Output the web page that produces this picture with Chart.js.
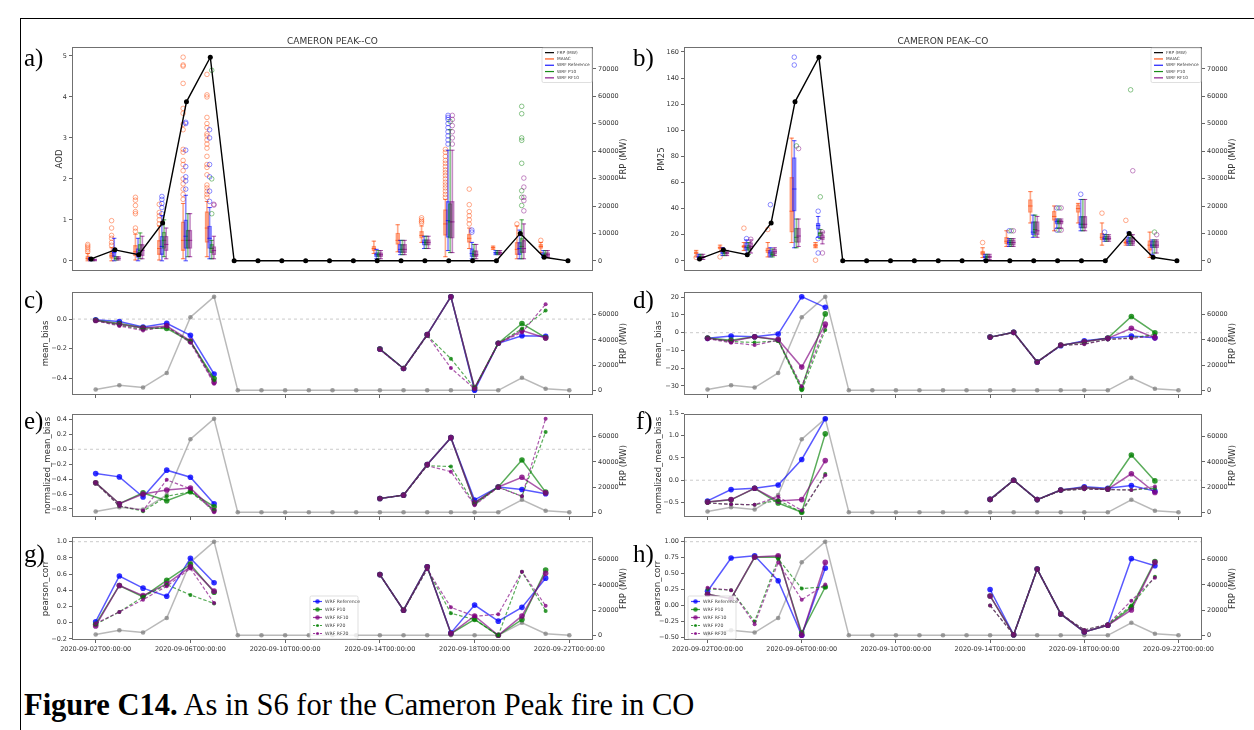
<!DOCTYPE html>
<html>
<head>
<meta charset="utf-8">
<title>Cameron Peak fire - CO</title>
<script src="https://cdn.jsdelivr.net/npm/chart.js@4.4.1/dist/chart.umd.min.js"></script>
<style>
  html, body { margin: 0; padding: 0; background: #fff; }
  body { width: 1254px; height: 730px; position: relative; overflow: hidden; }
  canvas { position: absolute; }
  .tag { position: absolute; font-family: "Liberation Serif", serif; font-size: 25px; line-height: 1; color: #000; }
  #caption { position: absolute; left: 24px; top: 690px; font-family: "Liberation Serif", serif; font-size: 30.5px; line-height: 1; white-space: nowrap; color: #000; }
  .rule { position: absolute; background: #000; }
</style>
</head>
<body>
<div class="rule" style="left:20px;top:18px;width:1px;height:712px"></div>
<div class="rule" style="left:20px;top:18px;width:1234px;height:1px"></div>

<canvas id="pa"></canvas><canvas id="pb"></canvas>
<canvas id="pc"></canvas><canvas id="pd"></canvas>
<canvas id="pe"></canvas><canvas id="pf"></canvas>
<canvas id="pg"></canvas><canvas id="ph"></canvas>

<div class="tag" style="left:24px;top:45px">a)</div>
<div class="tag" style="left:633px;top:45px">b)</div>
<div class="tag" style="left:24px;top:287px">c)</div>
<div class="tag" style="left:633px;top:287px">d)</div>
<div class="tag" style="left:24px;top:408px">e)</div>
<div class="tag" style="left:636px;top:408px">f)</div>
<div class="tag" style="left:24px;top:541px">g)</div>
<div class="tag" style="left:633px;top:541px">h)</div>

<div id="caption"><b>Figure C14.</b> As in S6 for the Cameron Peak fire in CO</div>

<script>
const N = null;

// one entry per day, 2020-09-02 .. 2020-09-22
const dates = [
  "2020-09-02", "2020-09-03", "2020-09-04", "2020-09-05", "2020-09-06", "2020-09-07", "2020-09-08",
  "2020-09-09", "2020-09-10", "2020-09-11", "2020-09-12", "2020-09-13", "2020-09-14", "2020-09-15",
  "2020-09-16", "2020-09-17", "2020-09-18", "2020-09-19", "2020-09-20", "2020-09-21", "2020-09-22"
];
const xTickDays = [0, 4, 8, 12, 16, 20];

// fire radiative power (MW)
const frpMW = [700, 4000, 2200, 13800, 58000, 74300, 0, 0, 0, 0, 0, 0, 0, 0, 0, 0, 0, 0, 10000, 1300, 0];
const frpTicksBox = [0, 10000, 20000, 30000, 40000, 50000, 60000, 70000];
const frpTicks = [0, 20000, 40000, 60000];

// ---- box plots: days with observations, [low whisker, q1, median, q3, high whisker]
const boxDays = [0, 1, 2, 3, 4, 5, 12, 13, 14, 15, 16, 17, 18, 19];

const aodMaiacBox = [
  [0, 0.03, 0.06, 0.12, 0.18], [0, 0.06, 0.12, 0.2, 0.32], [0.02, 0.12, 0.22, 0.38, 0.65],
  [0.02, 0.15, 0.3, 0.5, 0.85], [0.05, 0.25, 0.5, 0.95, 1.4], [0.1, 0.45, 0.8, 1.2, 1.45],
  [0.18, 0.24, 0.3, 0.36, 0.48], [0.22, 0.4, 0.5, 0.68, 0.88], [0.45, 0.55, 0.62, 0.72, 0.85],
  [0.1, 0.62, 0.9, 1.25, 1.5], [0.3, 0.45, 0.55, 0.65, 0.8], [0.28, 0.3, 0.32, 0.34, 0.36],
  [0.05, 0.15, 0.28, 0.45, 0.85], [0.2, 0.3, 0.35, 0.4, 0.45]
];
const aodMaiacOut = [
  [0.22, 0.27, 0.32, 0.36, 0.4], [0.38, 0.45, 0.55, 0.62, 0.8, 0.98], [0.72, 0.8, 1.15, 1.2, 1.35, 1.48, 1.55],
  [0.9, 1.0, 1.1, 1.18, 1.38],
  [1.5, 1.62, 1.75, 1.88, 2.0, 2.2, 2.35, 2.45, 2.65, 2.72, 3.2, 3.33, 3.6, 3.72, 4.33, 4.75, 4.78, 4.97],
  [1.55, 1.62, 1.7, 1.78, 1.85, 2.1, 2.28, 2.35, 2.55, 2.75, 2.85, 2.95, 3.05, 3.1, 3.25, 3.35, 3.5, 4.0, 4.05, 4.55],
  [], [], [0.92, 0.96, 1.0, 1.05],
  [1.55, 1.62, 1.7, 1.78, 1.85, 1.92, 2.0, 2.08, 2.15, 2.22, 2.3, 2.38, 2.45, 2.55, 2.65, 2.72],
  [0.9, 1.0, 1.1, 1.2, 1.37, 1.75], [], [0.9], [0.5]
];
const aodRefBox = [
  [0, 0.02, 0.04, 0.06, 0.08], [0, 0.1, 0.2, 0.3, 0.55], [0, 0.08, 0.15, 0.3, 0.55],
  [0, 0.15, 0.35, 0.6, 1.1], [0, 0.3, 0.6, 1.0, 1.6], [0.05, 0.3, 0.55, 0.85, 1.3],
  [0.05, 0.1, 0.15, 0.2, 0.28], [0.15, 0.2, 0.28, 0.4, 0.5], [0.3, 0.38, 0.45, 0.52, 0.6],
  [0.25, 0.57, 0.98, 1.45, 2.7], [0.05, 0.1, 0.18, 0.3, 0.45], [0.15, 0.17, 0.2, 0.22, 0.25],
  [0.05, 0.15, 0.3, 0.45, 0.75], [0.08, 0.1, 0.15, 0.2, 0.25]
];
const aodRefOut = [
  [], [], [], [1.15, 1.3, 1.4, 1.5, 1.57], [1.75, 1.95, 2.05, 2.3, 2.7, 3.35, 3.38], [1.45, 1.7, 2.05, 2.35, 3.0, 3.2],
  [], [], [], [2.85, 2.95, 3.05, 3.15, 3.25, 3.35, 3.45, 3.5, 3.55], [0.7, 0.75], [], [], []
];
const aodP10Box = [
  [0, 0.01, 0.02, 0.03, 0.05], [0.02, 0.04, 0.06, 0.08, 0.1], [0.05, 0.15, 0.25, 0.4, 0.68],
  [0.1, 0.3, 0.5, 0.7, 1.0], [0.1, 0.3, 0.5, 0.75, 1.15], [0.05, 0.2, 0.3, 0.4, 0.5],
  [0.05, 0.1, 0.15, 0.2, 0.25], [0.15, 0.2, 0.28, 0.4, 0.5], [0.3, 0.38, 0.45, 0.52, 0.6],
  [0.2, 0.55, 0.95, 1.4, 3.2], [0.05, 0.1, 0.15, 0.25, 0.4], [0.15, 0.17, 0.2, 0.22, 0.25],
  [0.05, 0.2, 0.35, 0.55, 1.0], [0.08, 0.1, 0.15, 0.2, 0.25]
];
const aodP10Out = [
  [], [], [], [], [], [1.15, 2.0, 4.65],
  [], [], [], [3.4], [], [], [1.35, 1.55, 1.71, 2.38, 2.94, 3.0, 3.59, 3.77], []
];
const aodRf10Box = [
  [0, 0.01, 0.02, 0.03, 0.04], [0.02, 0.04, 0.06, 0.08, 0.1], [0.05, 0.12, 0.25, 0.4, 0.6],
  [0.05, 0.25, 0.4, 0.6, 0.8], [0.1, 0.3, 0.5, 0.75, 1.15], [0.05, 0.15, 0.25, 0.35, 0.6],
  [0.05, 0.1, 0.15, 0.2, 0.25], [0.15, 0.2, 0.28, 0.4, 0.5], [0.3, 0.38, 0.45, 0.52, 0.6],
  [0.2, 0.55, 0.95, 1.45, 2.7], [0.05, 0.1, 0.15, 0.25, 0.4], [0.15, 0.17, 0.2, 0.22, 0.25],
  [0.05, 0.2, 0.3, 0.5, 0.9], [0.08, 0.1, 0.15, 0.2, 0.25]
];
const aodRf10Out = [
  [], [], [], [], [], [1.36, 1.38],
  [], [], [], [2.85, 3.0, 3.15, 3.3, 3.45, 3.55], [], [], [1.22, 1.47, 1.55, 1.8, 2.02], []
];

const pmMaiacBox = [
  [3, 5, 6, 7, 8], [7, 9, 10, 11, 12], [8, 10, 11, 12, 14], [3, 6, 8, 10, 14], [14, 22, 38, 64, 94], [10, 10.5, 12, 13, 14],
  [2.5, 4.5, 6, 7.5, 10], [11, 13, 15, 18, 23], [29, 37, 42, 47, 53], [23, 31, 34, 38, 42],
  [29, 37, 40, 43, 44], [12, 16, 18, 21, 29], [12, 13, 14, 15, 16], [2.6, 8, 12, 15.5, 22]
];
const pmMaiacOut = [[2.6], [3], [25], [24], [], [0.5], [14], [], [], [], [], [36.5], [31], []];
const pmRefBox = [
  [1, 2, 3, 4, 5], [4, 5, 6, 8, 10], [5, 8, 10, 14, 16], [3, 4, 6, 8, 10], [10, 38, 55, 79, 92], [18, 24, 27, 29, 34],
  [1, 2, 3, 4, 5], [11, 12, 14, 16, 17], [18, 20, 22, 30, 35], [25, 28, 30, 31, 32],
  [23, 25, 28, 34, 47], [15, 16, 17, 19, 20], [12, 13, 15, 18, 22], [5, 10, 12, 15, 16]
];
const pmRefOut = [[], [], [17], [43], [150, 156], [6, 17, 38], [], [23], [], [23.5, 40.5], [51], [22], [], []];
const pmP10Box = [
  [1, 2, 3, 4, 5], [4, 5, 6, 7, 8], [5, 8, 10, 12, 14], [3, 4, 5, 7, 9], [10, 14, 18, 25, 32], [17, 19, 21, 22, 24],
  [1, 2, 3, 4, 5], [11, 12, 14, 16, 17], [19, 21, 24, 30, 35], [25, 28, 30, 31, 32],
  [23, 25, 28, 34, 47], [15, 16, 17, 19, 20], [12, 13, 15, 18, 20], [6, 10, 12, 15, 16]
];
const pmP10Out = [[], [], [], [], [88], [49], [], [23], [], [23.5, 40.5], [], [], [131], [22]];
const pmRf10Box = [
  [1, 2, 3, 3.5, 5], [4, 5, 6, 7, 8], [6, 9, 11, 14, 16], [4, 5, 7, 9, 10], [11, 14, 19, 25, 32], [13, 16, 18, 20, 22],
  [1, 2, 3, 4, 5], [11, 12, 14, 16, 17], [18, 20, 23, 30, 34], [25, 28, 30, 31, 32],
  [23, 25, 28, 34, 47], [15, 16, 17, 19, 20], [12, 13, 15, 18, 20], [6, 10, 12, 15, 16]
];
const pmRf10Out = [[], [], [16.5], [], [86], [6, 22], [], [23], [], [23.5, 40.5], [], [], [69], [20]];

const aodTicks = [0, 1, 2, 3, 4, 5];
const pmTicks = [0, 20, 40, 60, 80, 100, 120, 140, 160];

// ---- daily scores per model run (null = no observations that day)
const mbAodRef  = [-0.005, -0.016, -0.053, -0.028, -0.109, -0.37, N, N, N, N, N, N, -0.202, -0.333, -0.105, 0.151, -0.48, -0.163, -0.112, -0.116, N];
const mbAodP10  = [-0.008, -0.03, -0.058, -0.063, -0.151, -0.40, N, N, N, N, N, N, -0.202, -0.333, -0.105, 0.151, -0.465, -0.163, -0.03, -0.125, N];
const mbAodRf10 = [-0.01, -0.035, -0.06, -0.046, -0.147, -0.425, N, N, N, N, N, N, -0.202, -0.333, -0.105, 0.151, -0.465, -0.163, -0.077, -0.128, N];
const mbAodP20  = [-0.01, -0.04, -0.07, -0.055, -0.15, -0.414, N, N, N, N, N, N, -0.202, -0.333, -0.11, -0.267, -0.465, -0.163, -0.065, 0.058, N];
const mbAodRf20 = [-0.012, -0.046, -0.077, -0.05, -0.16, -0.435, N, N, N, N, N, N, -0.205, -0.335, -0.11, -0.33, -0.47, -0.163, -0.09, 0.10, N];
const mbAodTicks = [-0.4, -0.2, 0.0];

const mbPmRef  = [-3.2, -1.9, -2.3, -0.8, 20.3, 14.3, N, N, N, N, N, N, -2.5, 0.2, -16.5, -7.3, -4.6, -3.2, -1.9, -2.9, N];
const mbPmP10  = [-3.0, -4.2, -2.3, -4.2, -31.5, 10.6, N, N, N, N, N, N, -2.5, 0.2, -16.5, -7.0, -5.1, -3.0, 9.1, 0.0, N];
const mbPmRf10 = [-3.2, -4.8, -2.3, -3.8, -19.4, 4.8, N, N, N, N, N, N, -2.5, 0.2, -16.5, -7.0, -5.1, -3.2, 2.5, -2.9, N];
const mbPmP20  = [-3.2, -5.0, -5.5, -4.6, -32.5, 1.5, N, N, N, N, N, N, -2.6, 0.1, -16.6, -7.2, -6.3, -3.8, -2.9, -1.0, N];
const mbPmRf20 = [-3.4, -5.7, -7.0, -4.2, -30.2, 3.4, N, N, N, N, N, N, -2.7, 0.0, -16.7, -7.2, -6.5, -3.8, -3.2, -1.9, N];
const mbPmTicks = [-30, -20, -10, 0, 10, 20];

const nmbAodRef  = [-0.326, -0.37, -0.64, -0.28, -0.375, -0.73, N, N, N, N, N, N, -0.66, -0.615, -0.205, 0.156, -0.68, -0.505, -0.54, -0.595, N];
const nmbAodP10  = [-0.45, -0.73, -0.585, -0.69, -0.57, -0.77, N, N, N, N, N, N, -0.66, -0.615, -0.205, 0.156, -0.72, -0.505, -0.143, -0.575, N];
const nmbAodRf10 = [-0.45, -0.73, -0.60, -0.545, -0.52, -0.82, N, N, N, N, N, N, -0.66, -0.615, -0.205, 0.156, -0.72, -0.505, -0.375, -0.585, N];
const nmbAodP20  = [-0.45, -0.76, -0.83, -0.63, -0.57, -0.82, N, N, N, N, N, N, -0.66, -0.615, -0.22, -0.232, -0.74, -0.505, -0.63, 0.232, N];
const nmbAodRf20 = [-0.45, -0.76, -0.82, -0.41, -0.53, -0.845, N, N, N, N, N, N, -0.66, -0.615, -0.22, -0.30, -0.75, -0.51, -0.63, 0.41, N];
const nmbAodTicks = [-0.8, -0.6, -0.4, -0.2, 0.0, 0.2, 0.4];

const nmbPmRef  = [-0.465, -0.21, -0.18, -0.107, 0.466, 1.38, N, N, N, N, N, N, -0.43, 0.0, -0.435, -0.22, -0.145, -0.18, -0.12, -0.245, N];
const nmbPmP10  = [-0.49, -0.44, -0.18, -0.51, -0.72, 1.04, N, N, N, N, N, N, -0.43, 0.0, -0.435, -0.22, -0.17, -0.2, 0.565, -0.015, N];
const nmbPmRf10 = [-0.49, -0.435, -0.18, -0.465, -0.435, 0.44, N, N, N, N, N, N, -0.43, 0.0, -0.435, -0.22, -0.17, -0.2, 0.145, -0.275, N];
const nmbPmP20  = [-0.51, -0.54, -0.55, -0.45, -0.72, 0.14, N, N, N, N, N, N, -0.45, 0.0, -0.44, -0.23, -0.2, -0.21, -0.22, -0.18, N];
const nmbPmRf20 = [-0.51, -0.54, -0.55, -0.37, -0.68, 0.11, N, N, N, N, N, N, -0.45, 0.0, -0.44, -0.23, -0.2, -0.21, -0.22, -0.14, N];
const nmbPmTicks = [-0.5, 0.0, 0.5, 1.0, 1.5];

const corrAodRef  = [0.013, 0.577, 0.427, 0.326, 0.795, 0.494, N, N, N, N, N, N, 0.594, 0.155, 0.69, -0.125, 0.218, 0.02, 0.19, 0.55, N];
const corrAodP10  = [-0.02, 0.46, 0.32, 0.523, 0.72, 0.377, N, N, N, N, N, N, 0.594, 0.155, 0.69, -0.134, 0.042, -0.155, 0.04, 0.65, N];
const corrAodRf10 = [-0.04, 0.46, 0.335, 0.48, 0.69, 0.39, N, N, N, N, N, N, 0.594, 0.155, 0.69, -0.134, 0.084, -0.155, 0.084, 0.61, N];
const corrAodP20  = [-0.02, 0.134, 0.32, 0.47, 0.343, 0.238, N, N, N, N, N, N, 0.594, 0.155, 0.66, 0.117, 0.04, -0.155, 0.63, 0.146, N];
const corrAodRf20 = [-0.01, 0.134, 0.285, 0.45, 0.67, 0.243, N, N, N, N, N, N, 0.594, 0.155, 0.66, 0.19, 0.08, 0.105, 0.63, 0.21, N];
const corrAodTicks = [-0.2, 0.0, 0.2, 0.4, 0.6, 0.8, 1.0];

const corrPmRef  = [0.223, 0.745, 0.78, 0.388, -0.468, 0.585, N, N, N, N, N, N, 0.25, -0.46, 0.57, -0.133, -0.415, -0.31, 0.734, 0.622, N];
const corrPmP10  = [0.175, 0.106, 0.755, 0.76, -0.43, 0.29, N, N, N, N, N, N, 0.149, -0.46, 0.57, -0.133, -0.415, -0.31, -0.027, 0.69, N];
const corrPmRf10 = [0.175, 0.106, 0.76, 0.78, -0.468, 0.675, N, N, N, N, N, N, 0.149, -0.46, 0.57, -0.133, -0.415, -0.31, -0.07, 0.675, N];
const corrPmP20  = [0.26, 0.24, -0.25, 0.73, 0.266, 0.29, N, N, N, N, N, N, 0.0, -0.46, 0.57, -0.133, -0.383, -0.296, 0.0, 0.45, N];
const corrPmRf20 = [0.277, 0.24, -0.293, 0.675, 0.09, 0.33, N, N, N, N, N, N, 0.0, -0.46, 0.57, -0.133, -0.383, -0.296, 0.075, 0.436, N];
const corrPmTicks = [-0.5, -0.25, 0.0, 0.25, 0.5, 0.75, 1.0];

// ---- styling
Chart.defaults.font.family = '"DejaVu Sans", sans-serif';
Chart.defaults.color = "#333";

const RED = "255,69,0", BLUE = "0,0,255", GREEN = "0,128,0", PURPLE = "128,0,128";
const rgba = (c, a) => `rgba(${c},${a})`;
const LW = 44, RW = 46;

const frames = {
  pa: { l: 72, t: 47, r: 593, b: 271 },
  pb: { l: 684, t: 47, r: 1202, b: 271 },
  pc: { l: 72, t: 292, r: 593, b: 395 },
  pd: { l: 684, t: 292, r: 1202, b: 395 },
  pe: { l: 72, t: 414, r: 593, b: 517 },
  pf: { l: 684, t: 414, r: 1202, b: 517 },
  pg: { l: 72, t: 537, r: 593, b: 640 },
  ph: { l: 684, t: 537, r: 1202, b: 640 }
};

const boxLegend = [
  { text: "FRP (MW)", color: "#000" },
  { text: "MAIAC", color: rgba(RED, 0.9) },
  { text: "WRF Reference", color: rgba(BLUE, 0.9) },
  { text: "WRF P10", color: rgba(GREEN, 0.9) },
  { text: "WRF RF10", color: rgba(PURPLE, 0.9) }
];
const runLegend = [
  { text: "WRF Reference", color: rgba(BLUE, 0.75), marker: 2.3 },
  { text: "WRF P10", color: rgba(GREEN, 0.75), marker: 2.3 },
  { text: "WRF RF10", color: rgba(PURPLE, 0.75), marker: 2.3 },
  { text: "WRF P20", color: rgba(GREEN, 0.75), marker: 1.6, dash: [2, 1.5] },
  { text: "WRF RF20", color: rgba(PURPLE, 0.75), marker: 1.6, dash: [2, 1.5] }
];

// per-canvas decorations: frame, axis labels, title, legend
const decor = {
  pa: { title: "CAMERON PEAK--CO", yLabel: "AOD", yLabelDx: 12,
        legend: { right: 1, top: 1, width: 50, rowH: 6.3, font: 4.3, lineLen: 9, items: boxLegend } },
  pb: { title: "CAMERON PEAK--CO", yLabel: "PM25", yLabelDx: 22,
        legend: { right: 1, top: 1, width: 50, rowH: 6.3, font: 4.3, lineLen: 9, items: boxLegend } },
  pc: { yLabel: "mean_bias", yLabelDx: 26 },
  pd: { yLabel: "mean_bias", yLabelDx: 25 },
  pe: { yLabel: "normalized_mean_bias", yLabelDx: 24 },
  pf: { yLabel: "normalized_mean_bias", yLabelDx: 25 },
  pg: { yLabel: "pearson_corr", yLabelDx: 26,
        legend: { left: 238, bottom: 1, width: 48, rowH: 8, font: 4.6, lineLen: 9, items: runLegend } },
  ph: { yLabel: "pearson_corr", yLabelDx: 26,
        legend: { left: 4, bottom: 1, width: 48, rowH: 8, font: 4.6, lineLen: 9, items: runLegend } }
};

function drawLegend(ctx, a, lg) {
  const h = lg.items.length * lg.rowH + 3;
  const x0 = lg.right != null ? a.right - lg.right - lg.width : a.left + lg.left;
  const y0 = lg.bottom != null ? a.bottom - lg.bottom - h : a.top + lg.top;
  ctx.fillStyle = "rgba(255,255,255,0.8)";
  ctx.strokeStyle = "rgba(210,210,210,0.9)";
  ctx.lineWidth = 0.8;
  ctx.beginPath();
  ctx.roundRect(x0, y0, lg.width, h, 1.5);
  ctx.fill();
  ctx.stroke();
  ctx.font = lg.font + 'px "DejaVu Sans"';
  ctx.textBaseline = "middle";
  ctx.textAlign = "left";
  lg.items.forEach((it, i) => {
    const cy = y0 + 1.5 + lg.rowH * (i + 0.5);
    const lx = x0 + 3;
    ctx.strokeStyle = it.color;
    ctx.lineWidth = 1.2;
    ctx.setLineDash(it.dash || []);
    ctx.beginPath();
    ctx.moveTo(lx, cy);
    ctx.lineTo(lx + lg.lineLen, cy);
    ctx.stroke();
    ctx.setLineDash([]);
    if (it.marker) {
      ctx.fillStyle = it.color;
      ctx.beginPath();
      ctx.arc(lx + lg.lineLen / 2, cy, it.marker, 0, Math.PI * 2);
      ctx.fill();
    }
    ctx.fillStyle = "#444";
    ctx.fillText(it.text, lx + lg.lineLen + 3, cy);
  });
}

const panelDecor = {
  id: "panelDecor",
  afterDraw(chart) {
    const o = decor[chart.canvas.id];
    const { ctx, chartArea: a } = chart;
    ctx.save();
    ctx.strokeStyle = "#707070";
    ctx.lineWidth = 1;
    ctx.strokeRect(Math.round(a.left) + 0.5, Math.round(a.top) + 0.5, Math.round(a.width) - 1, Math.round(a.height) - 1);

    const midY = (a.top + a.bottom) / 2;
    ctx.fillStyle = "#333";
    ctx.textAlign = "center";
    ctx.textBaseline = "middle";
    ctx.font = '8.5px "DejaVu Sans"';
    ctx.save();
    ctx.translate(a.left - o.yLabelDx, midY);
    ctx.rotate(-Math.PI / 2);
    ctx.fillText(o.yLabel, 0, 0);
    ctx.restore();
    ctx.save();
    ctx.translate(a.right + 31, midY);
    ctx.rotate(-Math.PI / 2);
    ctx.fillText("FRP (MW)", 0, 0);
    ctx.restore();

    if (o.title) {
      ctx.font = '9px "DejaVu Sans"';
      ctx.textBaseline = "alphabetic";
      ctx.fillText(o.title, (a.left + a.right) / 2, a.top - 3);
    }
    if (o.legend) drawLegend(ctx, a, o.legend);
    ctx.restore();
  }
};

function placeCanvas(id, padTop, xH) {
  const f = frames[id];
  const cv = document.getElementById(id);
  const w = f.r - f.l + LW + RW;
  const h = f.b - f.t + padTop + xH;
  cv.width = w;
  cv.height = h;
  cv.style.left = (f.l - LW) + "px";
  cv.style.top = (f.t - padTop) + "px";
  cv.style.width = w + "px";
  cv.style.height = h + "px";
  return cv;
}

const fixedTicks = values => scale => { scale.ticks = values.map(v => ({ value: v })); };
const withMinus = s => s.replace("-", "\u2212");

// axis limits with a 5% margin on each side
function padRange(values) {
  const v = values.filter(x => x !== null);
  const lo = Math.min(...v), hi = Math.max(...v);
  const m = (hi - lo) * 0.05;
  return [lo - m, hi + m];
}

function yAxis(pos, range, ticks, fmt) {
  return {
    type: "linear", position: pos, min: range[0], max: range[1],
    afterBuildTicks: fixedTicks(ticks),
    afterFit: s => { s.width = pos === "left" ? LW : RW; },
    ticks: { font: { size: 6.5 }, padding: 2, color: "#333", autoSkip: false, callback: v => withMinus(fmt(v)) },
    grid: { drawOnChartArea: false, tickLength: 3, color: "#666" },
    border: { display: false }
  };
}

function xAxis(min, max, xH, marks, labels) {
  return {
    type: "linear", min, max, offset: false,
    afterBuildTicks: fixedTicks(xTickDays),
    afterFit: s => { s.height = xH; },
    ticks: { display: labels, font: { size: 6.5 }, padding: 2, color: "#333", maxRotation: 0, autoSkip: false,
             callback: v => dates[v] + "T00:00:00" },
    grid: { display: marks, drawOnChartArea: false, tickLength: 3, color: "#666", offset: false },
    border: { display: false }
  };
}

const baseOptions = (padTop, scales) => ({
  responsive: false, animation: false, devicePixelRatio: 1, events: [],
  layout: { padding: { top: padTop, left: 0, right: 0, bottom: 0 } },
  plugins: { legend: { display: false }, tooltip: { enabled: false } },
  scales
});

// ---- box plot panels (a, b)
function boxSets(boxes, outs, off, c, order) {
  const at = i => boxDays[i] + off;
  return [
    { type: "bar", yAxisID: "y", grouped: false, barThickness: 1, order: order + 2,
      backgroundColor: rgba(c, 0.45), borderWidth: 0,
      data: boxes.map((b, i) => ({ x: at(i), y: [b[0], b[4]] })) },
    { type: "bar", yAxisID: "y", grouped: false, barThickness: 4, order: order + 1,
      backgroundColor: rgba(c, 0.16), borderColor: rgba(c, 0.5), borderWidth: 0.8, borderSkipped: false,
      data: boxes.map((b, i) => ({ x: at(i), y: [b[1], b[3]] })) },
    { type: "scatter", yAxisID: "y", order,
      pointStyle: "line", pointRadius: 2.2, pointBorderWidth: 1, pointBorderColor: rgba(c, 0.7), pointBackgroundColor: rgba(c, 0.7),
      data: boxes.flatMap((b, i) => [{ x: at(i), y: b[2] }, { x: at(i), y: b[0] }, { x: at(i), y: b[4] }]) },
    { type: "scatter", yAxisID: "y", order,
      pointStyle: "circle", pointRadius: 2.3, pointBorderWidth: 0.9, pointBorderColor: rgba(c, 0.5), pointBackgroundColor: "rgba(0,0,0,0)",
      data: outs.flatMap((o, i) => o.map(v => ({ x: at(i), y: v }))) }
  ];
}

function boxPanel(id, xRange, sets, yRange, yTicks, fmt) {
  const cv = placeCanvas(id, 14, 6);
  const frpLine = {
    type: "line", yAxisID: "y2", order: 0,
    data: frpMW.map((v, i) => ({ x: i, y: v })),
    borderColor: "#000", borderWidth: 1.4,
    pointRadius: 2.5, pointBackgroundColor: "#000", pointBorderWidth: 0
  };
  new Chart(cv, {
    type: "scatter",
    data: { datasets: [frpLine, ...sets] },
    options: baseOptions(14, {
      x: xAxis(xRange[0], xRange[1], 6, false, false),
      y: yAxis("left", yRange, yTicks, fmt),
      y2: yAxis("right", padRange(frpMW), frpTicksBox, v => String(v))
    }),
    plugins: [panelDecor]
  });
}

const boxOffset = { maiac: -0.14, ref: -0.03, p10: 0.06, rf10: 0.15 };

boxPanel("pa", [-0.8, 21.05], [
  ...boxSets(aodMaiacBox, aodMaiacOut, boxOffset.maiac, RED, 20),
  ...boxSets(aodRefBox, aodRefOut, boxOffset.ref, BLUE, 15),
  ...boxSets(aodP10Box, aodP10Out, boxOffset.p10, GREEN, 10),
  ...boxSets(aodRf10Box, aodRf10Out, boxOffset.rf10, PURPLE, 5)
], padRange([...aodMaiacOut.flat(), ...aodMaiacBox.flat(), 0]), aodTicks, v => String(v));

boxPanel("pb", [-0.65, 21.05], [
  ...boxSets(pmMaiacBox, pmMaiacOut, boxOffset.maiac, RED, 20),
  ...boxSets(pmRefBox, pmRefOut, boxOffset.ref, BLUE, 15),
  ...boxSets(pmP10Box, pmP10Out, boxOffset.p10, GREEN, 10),
  ...boxSets(pmRf10Box, pmRf10Out, boxOffset.rf10, PURPLE, 5)
], padRange([...pmRefOut.flat(), ...pmMaiacBox.flat(), 0]), pmTicks, v => String(v));

// ---- score panels (c-h)
function runLine(values, c, dashed, order) {
  return {
    type: "line", yAxisID: "y", order,
    data: values.map((v, i) => ({ x: i, y: v })),
    borderColor: rgba(c, 0.65), borderWidth: dashed ? 1.2 : 1.5, borderDash: dashed ? [3.5, 2] : [],
    pointRadius: dashed ? 2 : 2.8, pointBorderWidth: 0, pointBackgroundColor: rgba(c, 0.8),
    spanGaps: false
  };
}

function scorePanel(id, runs, refY, yTicks, fmt, labels) {
  const xH = labels ? 16 : 6;
  const cv = placeCanvas(id, 8, xH);
  const all = [...runs.ref, ...runs.p10, ...runs.rf10, ...runs.p20, ...runs.rf20, refY];
  const datasets = [
    { type: "line", yAxisID: "y", order: 30, data: [{ x: -1, y: refY }, { x: 21, y: refY }],
      borderColor: "rgba(190,190,190,0.8)", borderWidth: 1, borderDash: [3, 3], pointRadius: 0 },
    { type: "line", yAxisID: "y2", order: 20, data: frpMW.map((v, i) => ({ x: i, y: v })),
      borderColor: "rgba(128,128,128,0.55)", borderWidth: 1.5,
      pointRadius: 2.3, pointBorderWidth: 0, pointBackgroundColor: "rgba(128,128,128,0.75)" },
    runLine(runs.ref, BLUE, false, 6),
    runLine(runs.p10, GREEN, false, 5),
    runLine(runs.rf10, PURPLE, false, 4),
    runLine(runs.p20, GREEN, true, 3),
    runLine(runs.rf20, PURPLE, true, 2)
  ];
  new Chart(cv, {
    type: "scatter",
    data: { datasets },
    options: baseOptions(8, {
      x: xAxis(-1, 21, xH, true, labels),
      y: yAxis("left", padRange(all), yTicks, fmt),
      y2: yAxis("right", padRange(frpMW), frpTicks, v => String(v))
    }),
    plugins: [panelDecor]
  });
}

const f1 = v => v.toFixed(1), f2 = v => v.toFixed(2), f0 = v => String(v);

scorePanel("pc", { ref: mbAodRef, p10: mbAodP10, rf10: mbAodRf10, p20: mbAodP20, rf20: mbAodRf20 }, 0, mbAodTicks, f1, false);
scorePanel("pd", { ref: mbPmRef, p10: mbPmP10, rf10: mbPmRf10, p20: mbPmP20, rf20: mbPmRf20 }, 0, mbPmTicks, f0, false);
scorePanel("pe", { ref: nmbAodRef, p10: nmbAodP10, rf10: nmbAodRf10, p20: nmbAodP20, rf20: nmbAodRf20 }, 0, nmbAodTicks, f1, false);
scorePanel("pf", { ref: nmbPmRef, p10: nmbPmP10, rf10: nmbPmRf10, p20: nmbPmP20, rf20: nmbPmRf20 }, 0, nmbPmTicks, f1, false);
scorePanel("pg", { ref: corrAodRef, p10: corrAodP10, rf10: corrAodRf10, p20: corrAodP20, rf20: corrAodRf20 }, 1, corrAodTicks, f1, true);
scorePanel("ph", { ref: corrPmRef, p10: corrPmP10, rf10: corrPmRf10, p20: corrPmP20, rf20: corrPmRf20 }, 1, corrPmTicks, f2, true);
</script>
</body>
</html>
